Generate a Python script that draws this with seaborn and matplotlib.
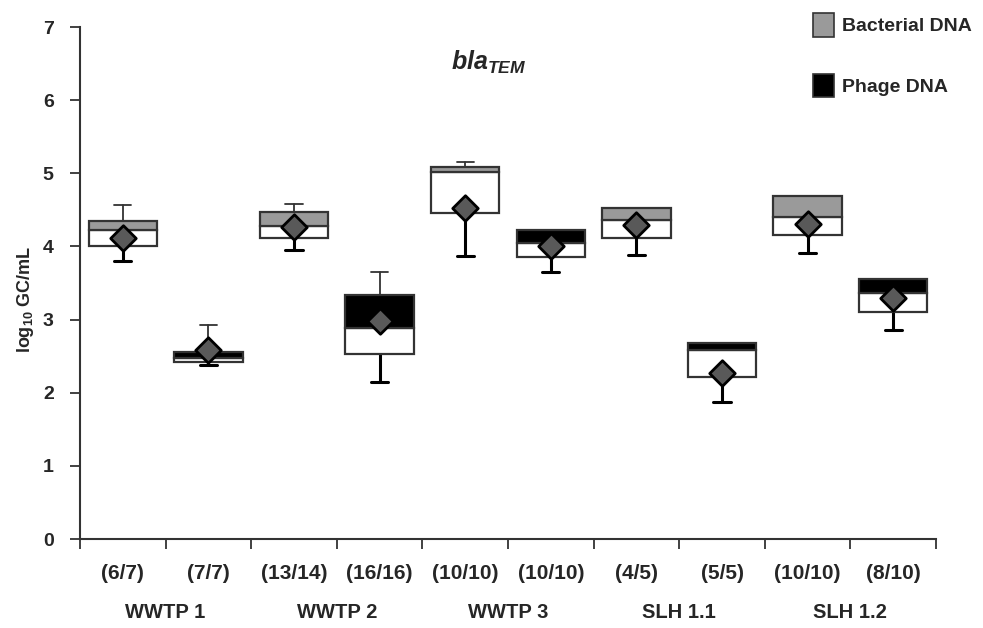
import numpy as np
import pandas as pd
import matplotlib
matplotlib.use("Agg")
import matplotlib.pyplot as plt
from matplotlib.patches import Patch
from matplotlib.transforms import blended_transform_factory
import seaborn as sns

# Sample labels (detected/total) and sites
sample_labels = ["(6/7)", "(7/7)", "(13/14)", "(16/16)", "(10/10)",
                 "(10/10)", "(4/5)", "(5/5)", "(10/10)", "(8/10)"]
sites = ["WWTP 1", "WWTP 2", "WWTP 3", "SLH 1.1", "SLH 1.2"]
fraction = ["Bacterial DNA", "Phage DNA"] * 5

# Box statistics (log10 GC/mL)
whisker_low = [3.80, 2.38, 3.95, 2.15, 3.87, 3.65, 3.88, 1.88, 3.91, 2.86]
q1 = [4.00, 2.42, 4.11, 2.53, 4.46, 3.85, 4.11, 2.22, 4.15, 3.10]
median = [4.22, 2.47, 4.28, 2.89, 5.02, 4.05, 4.36, 2.59, 4.40, 3.37]
q3 = [4.35, 2.56, 4.47, 3.33, 5.08, 4.22, 4.52, 2.68, 4.69, 3.56]
whisker_high = [4.56, 2.93, 4.58, 3.65, 5.15, 4.22, 4.52, 2.68, 4.69, 3.56]
mean = [4.12, 2.59, 4.27, 2.98, 4.52, 4.00, 4.29, 2.27, 4.30, 3.29]

colors = {"Bacterial DNA": "#9a9a9a", "Phage DNA": "#000000"}
edge = "#333333"

df = pd.DataFrame({
    "sample": [f"{s}_{i}" for i, s in enumerate(sample_labels)],
    "fraction": fraction,
    "low": whisker_low, "q1": q1, "median": median, "q3": q3,
    "high": whisker_high, "mean": mean,
})

sns.set_style("white")
plt.rcParams["font.family"] = ["Liberation Sans", "DejaVu Sans"]
plt.rcParams["mathtext.fontset"] = "custom"
plt.rcParams["mathtext.rm"] = "Liberation Sans:bold"
plt.rcParams["mathtext.it"] = "Liberation Sans:italic:bold"
plt.rcParams["mathtext.bf"] = "Liberation Sans:bold"

fig = plt.figure(figsize=(9.83, 6.28), dpi=100)
ax = fig.add_axes([0.0814, 0.1417, 0.8708, 0.8153])

pos = np.arange(len(df))
width = 0.8

# lower half of box (Q1 -> median) is white, upper half (median -> Q3) coloured
ax.bar(pos, df["median"] - df["q1"], bottom=df["q1"], width=width,
       color="white", edgecolor=edge, linewidth=1.6, zorder=2)
ax.bar(pos, df["q3"] - df["median"], bottom=df["median"], width=width,
       color=[colors[f] for f in df["fraction"]], edgecolor=edge,
       linewidth=1.6, zorder=2)

cap = 0.1
for p, row in zip(pos, df.itertuples()):
    if row.low < row.q1:
        ax.plot([p, p], [row.q1, row.low], color="black", lw=2.2, zorder=1)
        ax.plot([p - cap, p + cap], [row.low, row.low], color="black", lw=2.2, zorder=1)
    if row.high > row.q3:
        ax.plot([p, p], [row.q3, row.high], color=edge, lw=1.3, zorder=1)
        ax.plot([p - cap, p + cap], [row.high, row.high], color=edge, lw=1.3, zorder=1)

# mean markers
sns.stripplot(data=df, x="sample", y="mean", ax=ax, jitter=False,
              marker="D", size=13, color="#595959", edgecolor="black",
              linewidth=2, zorder=5, native_scale=False)

ax.set_xlim(-0.5, len(df) - 0.5)
ax.set_ylim(0, 7)
ax.set_yticks(range(0, 8))
ax.set_yticklabels([str(v) for v in range(0, 8)], fontsize=14, fontweight="bold")
ax.set_xticks(np.arange(-0.5, len(df), 1.0))
ax.set_xticklabels([])
ax.set_xticks(pos, minor=True)
ax.set_xticklabels(sample_labels, minor=True, fontsize=15, fontweight="bold")
ax.tick_params(axis="x", which="major", direction="out", length=7, width=1.3,
               color="#333333", bottom=True)
ax.tick_params(axis="x", which="minor", length=0, pad=18)
ax.tick_params(axis="y", direction="out", length=7, width=1.3,
               color="#333333", left=True, pad=12)
ax.set_xlabel("")
ax.set_ylabel(r"log$_{10}$ GC/mL", fontsize=13, fontweight="bold")
ax.yaxis.set_label_coords(-0.052, 0.467)

for side in ["top", "right"]:
    ax.spines[side].set_visible(False)
for side in ["left", "bottom"]:
    ax.spines[side].set_color("#333333")
    ax.spines[side].set_linewidth(1.5)

# site names under each pair of samples
trans = blended_transform_factory(ax.transData, fig.transFigure)
for i, site in enumerate(sites):
    ax.text(2 * i + 0.5, 0.025, site, transform=trans, ha="center",
            va="center", fontsize=14.5, fontweight="bold")

ax.text(0.477, 0.93, r"$bla_{TEM}$", transform=ax.transAxes, ha="center",
        va="center", fontsize=18)

handles = [Patch(facecolor=colors["Bacterial DNA"], edgecolor=edge, linewidth=1.2),
           Patch(facecolor=colors["Phage DNA"], edgecolor=edge, linewidth=1.2)]
fig.legend(handles, ["Bacterial DNA", "Phage DNA"], loc="upper left",
           bbox_to_anchor=(0.817, 0.995), frameon=False,
           handlelength=1.1, handleheight=1.5, labelspacing=1.9,
           handletextpad=0.4, borderpad=0, prop={"weight": "bold", "size": 14})

fig.savefig("out.png", dpi=100, facecolor="white")
